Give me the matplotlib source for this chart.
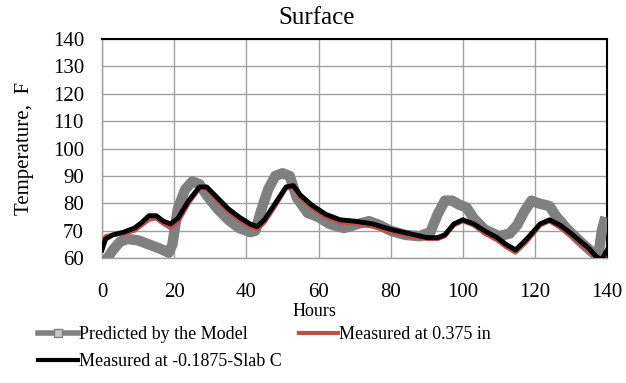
import matplotlib
matplotlib.use("Agg")
import matplotlib.pyplot as plt
from matplotlib.lines import Line2D

plt.rcParams['font.family'] = ['Liberation Serif', 'DejaVu Serif']

# Predicted by the model
model_h = [0.5, 1.5, 3, 5, 7, 10, 13, 16, 18.5, 19.5, 21, 23, 25, 27, 29, 32, 35, 38, 41, 42.5,
           44, 46, 48, 50, 52, 54, 57, 60, 63, 67, 71, 74, 77, 80, 84, 88, 91, 93, 95, 97,
           99, 101, 103, 106, 110, 113, 115, 117, 119, 121, 124, 126, 129, 133, 136, 137.5,
           138.5, 139.5]
model_t = [58, 60, 63, 66, 67, 66.5, 65, 63.5, 62, 65, 78, 85, 88, 87, 83, 78, 74, 71, 69.5, 70,
           77, 85, 90, 91, 90, 82, 76.5, 75, 72.5, 71, 72.5, 73.5, 72, 70, 68.5, 68, 69.5, 76, 81, 81,
           79.5, 78.5, 74.5, 70.5, 68, 69, 72, 77, 81, 80, 79, 75, 70.5, 65.5, 62, 60.5,
           70, 75]

# Measured series
meas_h = [0, 1, 3, 6, 9, 11, 13, 15, 17, 19, 21, 24, 27, 29, 32, 35, 38, 41, 43, 45, 48, 51, 53,
          55, 58, 62, 66, 70, 75, 80, 85, 90, 93, 95, 97.5, 100, 103, 106, 109.5, 112, 114.6,
          117.7, 121.4, 124, 127, 130, 132.7, 135, 137, 138.5, 140]
meas_0375 = [66, 68, 68.5, 69, 70, 72, 74, 74.5, 72.5, 71, 73, 80, 85.5, 85.5, 81, 77, 74, 71.5,
             70.5, 73, 79, 85.5, 86, 82, 78.5, 75, 73, 72.5, 71.5, 69.5, 68, 67, 67, 68, 72, 73.5,
             72, 69, 66.5, 64, 62, 66, 72, 73.5, 71, 68, 65, 62.5, 60, 59, 62]
meas_slab = [63, 67, 68.5, 69.5, 71, 73, 75.5, 75.5, 73.5, 72.5, 74.5, 81, 86, 86, 82, 78, 75,
             72.5, 71.5, 74, 80, 86, 86.5, 83, 79.5, 76, 74, 73.5, 72.5, 70.5, 69, 67.5, 67.5,
             68.5, 72.5, 74, 72.5, 70, 67.5, 65, 63, 67, 72.5, 74, 72, 69, 66, 63.5, 60.5, 59.5, 63]

xticks = [0, 20, 40, 60, 80, 100, 120, 140]
yticks = [60, 70, 80, 90, 100, 110, 120, 130, 140]

GRAY = '#808080'
RED = '#c0504d'

fig = plt.figure(figsize=(6.26, 3.83), dpi=100)
ax = fig.add_axes([0.163, 0.326, 0.807, 0.572])

ax.plot(model_h, model_t, color=GRAY, lw=7.5, solid_joinstyle='round', solid_capstyle='butt', zorder=3)
ax.plot(meas_h, meas_0375, color=RED, lw=3, zorder=4)
ax.plot(meas_h, meas_slab, color='black', lw=3.5, zorder=5)

ax.set_xlim(0, 140)
ax.set_ylim(60, 140)
ax.set_xticks(xticks)
ax.set_yticks(yticks)
ax.grid(True, color='#a0a0a0', lw=1)
ax.set_axisbelow(True)
ax.tick_params(length=0, labelsize=15)
ax.tick_params(axis='x', pad=18)
ax.tick_params(axis='y', pad=13)
for s in ['top', 'right']:
    ax.spines[s].set_color('black')
    ax.spines[s].set_linewidth(1.5)
for s in ['left', 'bottom']:
    ax.spines[s].set_color('#a0a0a0')
    ax.spines[s].set_linewidth(1)

fig.text(316.5 / 626, 1 - 18 / 383, 'Surface', fontsize=18, ha='center', va='center')
fig.text(314 / 626, 1 - 312 / 383, 'Hours', fontsize=13, ha='center', va='center')
fig.text(24 / 626, 1 - 148 / 383, 'Temperature,  F', fontsize=15, ha='center', va='center',
         rotation=90)

handles = [
    Line2D([], [], color=GRAY, lw=4, marker='s', ms=6, mfc='#c8c8c8', mec=GRAY),
    Line2D([], [], color='black', lw=3),
    Line2D([], [], color=RED, lw=3),
]
labels = ['Predicted by the Model', 'Measured at -0.1875-Slab C', 'Measured at 0.375 in']
fig.legend(handles, labels, loc='upper left', bbox_to_anchor=(38 / 626, 1 - 326 / 383),
           ncol=2, frameon=False, fontsize=13, handlelength=2.2, handletextpad=0.05,
           columnspacing=0.95, borderaxespad=0, borderpad=0, labelspacing=0.55)

fig.savefig('out.png', dpi=100)
